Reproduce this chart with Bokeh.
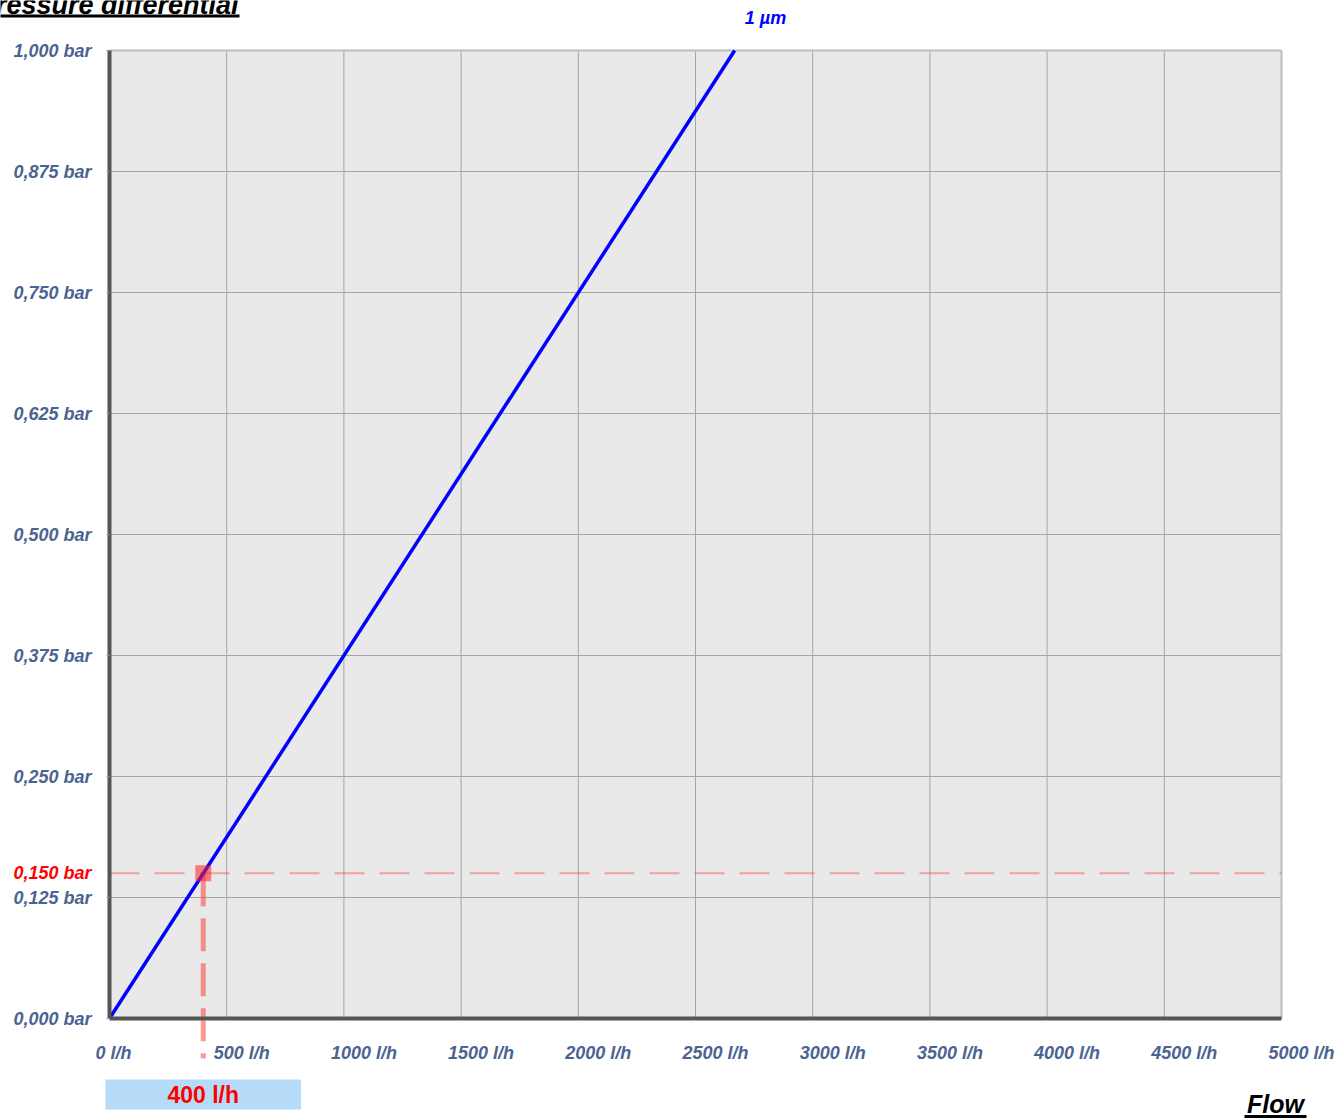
from bokeh.plotting import figure
from bokeh.models import Range1d, FixedTicker, LinearAxis, Label
from bokeh.embed import file_html
from bokeh.resources import INLINE

# ---- data ----
flow_lh = [0, 2667]          # l/h
dp_bar = [0.0, 1.0]          # bar
series_name = "1 µm"
op_flow = 400                # operating point flow (l/h)
op_dp = 0.150                # operating point pressure differential (bar)
x_ticks = [0, 500, 1000, 1500, 2000, 2500, 3000, 3500, 4000, 4500, 5000]
x_tick_labels = ["0 l/h", "500 l/h", "1000 l/h", "1500 l/h", "2000 l/h", "2500 l/h",
                 "3000 l/h", "3500 l/h", "4000 l/h", "4500 l/h", "5000 l/h"]
y_ticks = [0, 0.125, 0.25, 0.375, 0.5, 0.625, 0.75, 0.875, 1]
y_tick_labels = ["0,000 bar", "0,125 bar", "0,250 bar", "0,375 bar", "0,500 bar",
                 "0,625 bar", "0,750 bar", "0,875 bar", "1,000 bar"]
op_flow_label = "400 l/h"
op_dp_label = "0,150 bar"
x_title = "Flow"
y_title = "Pressure differential"

# ---- layout (pixels) ----
W, H = 1344, 1118
FL, FR, FT, FB = 109, 1281, 50, 1018          # plot area edges
XMIN, XMAX = x_ticks[0], x_ticks[-1]
YMIN, YMAX = y_ticks[0], y_ticks[-1]
KX = (FR - FL) / (XMAX - XMIN)
KY = (FB - FT) / (YMAX - YMIN)

def X(px):
    return XMIN + (px - FL) / KX

def Y(py):
    return YMIN + (FB - py) / KY

FONT = "Liberation Sans"
TICK_COLOR = "#4a6491"
GRID = "#a6a6a6"

p = figure(width=W, height=H, x_range=Range1d(X(0), X(W)), y_range=Range1d(Y(H), Y(0)),
           output_backend="svg", toolbar_location=None, min_border=0)
p.background_fill_color = "white"
p.border_fill_color = "white"
p.outline_line_color = None
p.grid.visible = False

# plot area background
p.quad(left=[XMIN], right=[XMAX], bottom=[YMIN], top=[YMAX], fill_color="#e9e9e9", line_color=None)

# grid
gx = x_ticks[1:-1]
p.segment(x0=gx, y0=[YMIN] * len(gx), x1=gx, y1=[YMAX] * len(gx), line_color=GRID, line_width=1)
gy = y_ticks[1:-1]
p.segment(x0=[XMIN] * len(gy), y0=gy, x1=[XMAX] * len(gy), y1=gy, line_color=GRID, line_width=1)
# light outline top / right
p.segment(x0=[XMIN, XMAX], y0=[YMAX, YMIN], x1=[XMAX, XMAX], y1=[YMAX, YMAX],
          line_color="#bdbdbd", line_width=2)

# y axis (fixed inside the full frame)
ya = p.yaxis[0]
ya.fixed_location = XMIN
ya.bounds = (YMIN, YMAX)
ya.ticker = FixedTicker(ticks=y_ticks)
ya.major_label_overrides = {(int(v) if float(v).is_integer() else v): s for v, s in zip(y_ticks, y_tick_labels)}
ya.axis_line_color = "#555555"
ya.axis_line_width = 4
ya.major_tick_out = 3
ya.major_tick_in = 0
ya.major_tick_line_color = "#999999"
ya.minor_tick_line_color = None
ya.major_label_standoff = 15
ya.major_label_text_font = FONT
ya.major_label_text_font_style = "bold italic"
ya.major_label_text_font_size = "18px"
ya.major_label_text_color = TICK_COLOR

# x axis: line only
xa = p.xaxis[0]
xa.fixed_location = YMIN
xa.bounds = (XMIN, XMAX)
xa.ticker = FixedTicker(ticks=[])
xa.axis_line_color = "#555555"
xa.axis_line_width = 4
xa.major_tick_line_color = None
xa.minor_tick_line_color = None

# x tick labels, slightly right of each tick like the original
groups = [([0], 4), ([500], 15), (x_ticks[2:], 20)]
for i, (ticks, dpx) in enumerate(groups):
    name = f"lab{i}"
    p.extra_x_ranges[name] = Range1d(X(0) - dpx / KX, X(W) - dpx / KX)
    la = LinearAxis(x_range_name=name, ticker=FixedTicker(ticks=ticks), fixed_location=YMIN)
    la.major_label_overrides = {v: s for v, s in zip(x_ticks, x_tick_labels) if v in ticks}
    la.axis_line_color = None
    la.major_tick_line_color = None
    la.minor_tick_line_color = None
    la.major_tick_out = 0
    la.major_tick_in = 0
    la.major_label_standoff = 24
    la.major_label_text_font = FONT
    la.major_label_text_font_style = "bold italic"
    la.major_label_text_font_size = "18px"
    la.major_label_text_color = TICK_COLOR
    p.add_layout(la, "below")

# operating point guide lines
p.line([XMIN, XMAX], [op_dp, op_dp], line_color="#ff3030", line_alpha=0.4,
       line_width=2, line_dash="30 15")
p.line([op_flow, op_flow], [op_dp, Y(1058)], line_color="#ff3030", line_alpha=0.5,
       line_width=5, line_dash="33 12")

# series
p.line(flow_lh, dp_bar, line_color="#0000ff", line_width=3.5)

p.scatter([op_flow], [op_dp], marker="square", size=16, fill_color="#ff2020",
          fill_alpha=0.55, line_color=None)

# series name
p.add_layout(Label(x=X(765), y=Y(17), text=series_name, text_align="center",
                   text_baseline="middle", text_font=FONT, text_font_style="bold italic",
                   text_font_size="18px", text_color="#0000ff"))

# red y value label
p.add_layout(Label(x=XMIN, y=op_dp, x_offset=-18, text=op_dp_label, text_align="right",
                   text_baseline="middle", text_font=FONT, text_font_style="bold italic",
                   text_font_size="18px", text_color="#ff0000"))

# flow value box
p.add_layout(Label(x=op_flow, y=Y(1094), text=op_flow_label, text_align="center",
                   text_baseline="middle", text_font=FONT, text_font_style="bold",
                   text_font_size="23px", text_color="#ff0000",
                   background_fill_color="#b5dbf9",
                   padding=dict(left=62, right=62, top=2, bottom=2)))

# axis titles (underlined)
p.add_layout(Label(x=X(238), y=Y(4), text=y_title, text_align="right",
                   text_baseline="middle", text_font=FONT, text_font_style="bold italic",
                   text_font_size="27px", text_color="black"))
p.line([X(-10), X(239)], [Y(15.5), Y(15.5)], line_color="black", line_width=3)

p.add_layout(Label(x=X(1275), y=Y(1103.5), text=x_title, text_align="center",
                   text_baseline="middle", text_font=FONT, text_font_style="bold italic",
                   text_font_size="25px", text_color="black"))
p.line([X(1244), X(1306)], [Y(1116), Y(1116)], line_color="black", line_width=3)

open("out.html", "w").write(file_html(p, INLINE))
